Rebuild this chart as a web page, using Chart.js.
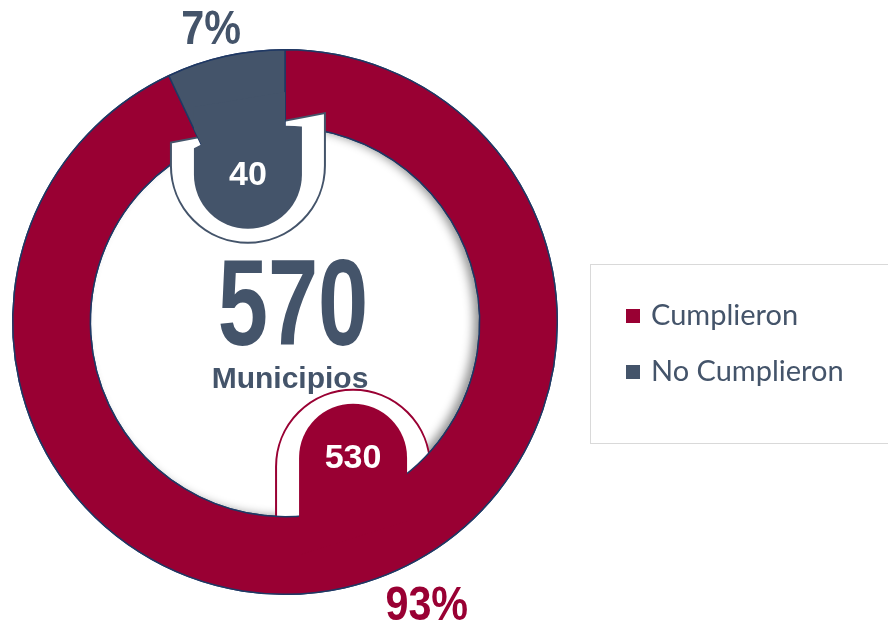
<!DOCTYPE html>
<html>
<head>
<meta charset="utf-8">
<script src="https://cdn.jsdelivr.net/npm/chart.js@4/dist/chart.umd.min.js"></script>
<style>
  html, body { margin: 0; padding: 0; background: #fff; }
  #wrap { width: 888px; height: 625px; }
</style>
</head>
<body>
<div id="wrap"><canvas id="dona" width="888" height="625"></canvas></div>
<script>
const categories = ['Cumplieron', 'No Cumplieron'];
const municipios = [530, 40];
const centerCaption = 'Municipios';

const sliceColors = ['#990033', '#44546A'];
const borderNavy = '#1F3864';
const textSlate = '#44546A';

// where the callouts sit (degrees added to each slice's mid angle) and label gaps
const calloutAngleOffset = [-14, -1.5];
const percentGap = [44, 30];

const total = municipios.reduce((a, b) => a + b, 0);

function edgeY(cx, cy, x, r, s) {
  const dx = x - cx;
  const h = Math.sqrt(Math.max(r * r - dx * dx, 0));
  return cy - s * h;
}

function uPath(ctx, px, py, hw, s, cx, cy, rTop) {
  ctx.beginPath();
  ctx.moveTo(px - hw, edgeY(cx, cy, px - hw, rTop, s));
  ctx.lineTo(px - hw, py);
  ctx.arc(px, py, hw, Math.PI, 0, s > 0);
  ctx.lineTo(px + hw, edgeY(cx, cy, px + hw, rTop, s));
  ctx.closePath();
}

const innerShadow = {
  id: 'innerShadow',
  afterDatasetsDraw(chart) {
    const arc = chart.getDatasetMeta(0).data[0];
    const { x, y, innerRadius } = arc.getProps(['x', 'y', 'innerRadius'], true);
    const ctx = chart.ctx;
    ctx.save();
    ctx.beginPath();
    ctx.arc(x, y, innerRadius - 0.8, 0, Math.PI * 2);
    ctx.clip();
    ctx.beginPath();
    ctx.arc(x, y, innerRadius + 30, 0, Math.PI * 2);
    ctx.lineWidth = 60;
    ctx.strokeStyle = '#000';
    ctx.shadowColor = 'rgba(0,0,0,0.42)';
    ctx.shadowBlur = 10;
    ctx.shadowOffsetX = -6;
    ctx.shadowOffsetY = -1;
    ctx.stroke();
    ctx.restore();
  }
};

const callouts = {
  id: 'callouts',
  afterDatasetsDraw(chart) {
    const ctx = chart.ctx;
    const meta = chart.getDatasetMeta(0);
    meta.data.forEach((arc, i) => {
      const p = arc.getProps(['x', 'y', 'startAngle', 'endAngle', 'innerRadius', 'outerRadius'], true);
      const cx = p.x, cy = p.y;
      const mid = (p.startAngle + p.endAngle) / 2 + calloutAngleOffset[i] * Math.PI / 180;
      const d = p.innerRadius * 0.78;
      const px = cx + Math.cos(mid) * d;
      const py = cy + Math.sin(mid) * d;
      const s = py < cy ? 1 : -1;
      const color = sliceColors[i];

      // white callout outline
      ctx.save();
      uPath(ctx, px, py - s * 9, 77, s, cx, cy, p.innerRadius + 18);
      ctx.fillStyle = '#fff';
      ctx.fill();
      ctx.lineWidth = 2;
      ctx.strokeStyle = color;
      ctx.stroke();
      ctx.restore();

      // slice back on top
      arc.draw(ctx);

      // tab
      ctx.save();
      ctx.beginPath();
      ctx.arc(cx, cy, p.innerRadius + 1.5, 0, Math.PI * 2);
      ctx.moveTo(cx, cy);
      ctx.arc(cx, cy, p.outerRadius - 2, p.startAngle, p.endAngle);
      ctx.closePath();
      ctx.clip();
      uPath(ctx, px, py, 54, s, cx, cy, (p.innerRadius + p.outerRadius) / 2);
      ctx.fillStyle = color;
      ctx.fill();
      ctx.restore();

      ctx.save();
      ctx.fillStyle = '#fff';
      ctx.font = 'bold 34px "Liberation Sans", Arial, sans-serif';
      ctx.textAlign = 'center';
      ctx.textBaseline = 'middle';
      ctx.fillText(String(municipios[i]), px, py + 1);
      ctx.restore();

      // percentage outside the ring
      const pct = Math.round(municipios[i] / total * 100) + '%';
      const rd = p.outerRadius + percentGap[i];
      const lx = cx + Math.cos(mid) * rd;
      const ly = cy + Math.sin(mid) * rd;
      ctx.save();
      ctx.translate(lx, ly);
      ctx.scale(0.86, 1);
      ctx.fillStyle = color;
      ctx.font = 'bold 48px "Liberation Sans", Arial, sans-serif';
      ctx.textAlign = 'center';
      ctx.textBaseline = 'middle';
      ctx.fillText(pct, 0, 2);
      ctx.restore();
    });
  }
};

const centerText = {
  id: 'centerText',
  afterDraw(chart) {
    const ctx = chart.ctx;
    const arc = chart.getDatasetMeta(0).data[0];
    const { x, y } = arc.getProps(['x', 'y'], true);
    ctx.save();
    ctx.fillStyle = textSlate;
    ctx.textAlign = 'center';
    ctx.textBaseline = 'alphabetic';
    ctx.save();
    ctx.translate(x + 8, y + 23);
    ctx.scale(0.74, 1);
    ctx.font = 'bold 122px "Liberation Sans", Arial, sans-serif';
    ctx.fillText(String(total), 0, 0);
    ctx.restore();
    ctx.font = 'bold 30px "Liberation Sans", Arial, sans-serif';
    ctx.fillText(centerCaption, x + 5, y + 66);
    ctx.restore();
  }
};

const boxLegend = {
  id: 'boxLegend',
  afterDraw(chart) {
    const ctx = chart.ctx;
    const left = chart.chartArea.right + 32.5;
    const top = 264.5;
    ctx.save();
    ctx.strokeStyle = '#D9D9D9';
    ctx.lineWidth = 1;
    ctx.strokeRect(left, top, 320, 179);
    ctx.font = '29px Lato, "Open Sans", sans-serif';
    ctx.textBaseline = 'middle';
    chart.data.labels.forEach((label, i) => {
      const cyItem = 316 + i * 56;
      ctx.fillStyle = chart.data.datasets[0].backgroundColor[i];
      ctx.fillRect(left + 35.5, cyItem - 7, 14, 14);
      ctx.fillStyle = textSlate;
      ctx.fillText(label, left + 60.5, cyItem);
    });
    ctx.restore();
  }
};

new Chart(document.getElementById('dona'), {
  type: 'doughnut',
  data: {
    labels: categories,
    datasets: [{
      data: municipios,
      backgroundColor: sliceColors,
      borderColor: borderNavy,
      borderWidth: 1.5,
    }],
  },
  options: {
    responsive: false,
    animation: false,
    devicePixelRatio: 1,
    cutout: '71.5%',
    layout: { padding: { left: 12, top: 49, bottom: 30, right: 330 } },
    plugins: {
      legend: { display: false },
      tooltip: { enabled: false },
    },
  },
  plugins: [innerShadow, callouts, centerText, boxLegend],
});
</script>
</body>
</html>
